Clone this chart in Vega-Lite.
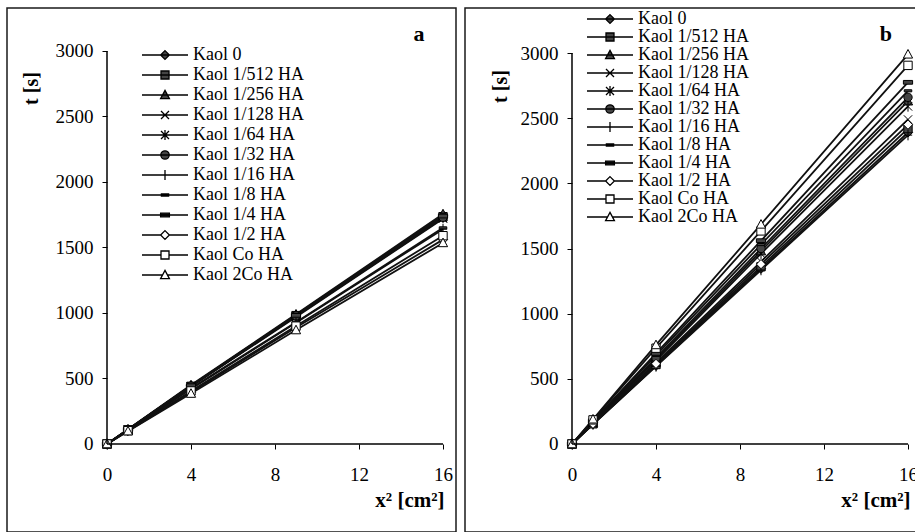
{
  "$schema": "https://vega.github.io/schema/vega-lite/v6.json",
  "padding": {"left": 6, "top": 7, "right": 0, "bottom": 0},
  "spacing": 7,
  "config": {
    "font": "Liberation Serif",
    "view": {"stroke": "#1a1a1a", "strokeWidth": 1.5},
    "axis": {"grid": false, "domain": false, "tickColor": "black", "tickSize": 5, "labelColor": "black", "labelFont": "Liberation Serif", "labelFontSize": 19, "titleFont": "Liberation Serif", "titleFontSize": 20, "titleFontWeight": "bold", "titleColor": "black"}
  },
  "datasets": {
    "A": [
      {"s": "Kaol 0", "xsq": 0, "t": 0}, {"s": "Kaol 0", "xsq": 1, "t": 110}, {"s": "Kaol 0", "xsq": 4, "t": 445}, {"s": "Kaol 0", "xsq": 9, "t": 985}, {"s": "Kaol 0", "xsq": 16, "t": 1745},
      {"s": "Kaol 1/512 HA", "xsq": 0, "t": 0}, {"s": "Kaol 1/512 HA", "xsq": 1, "t": 108}, {"s": "Kaol 1/512 HA", "xsq": 4, "t": 440}, {"s": "Kaol 1/512 HA", "xsq": 9, "t": 980}, {"s": "Kaol 1/512 HA", "xsq": 16, "t": 1735},
      {"s": "Kaol 1/256 HA", "xsq": 0, "t": 0}, {"s": "Kaol 1/256 HA", "xsq": 1, "t": 112}, {"s": "Kaol 1/256 HA", "xsq": 4, "t": 450}, {"s": "Kaol 1/256 HA", "xsq": 9, "t": 990}, {"s": "Kaol 1/256 HA", "xsq": 16, "t": 1755},
      {"s": "Kaol 1/128 HA", "xsq": 0, "t": 0}, {"s": "Kaol 1/128 HA", "xsq": 1, "t": 108}, {"s": "Kaol 1/128 HA", "xsq": 4, "t": 438}, {"s": "Kaol 1/128 HA", "xsq": 9, "t": 970}, {"s": "Kaol 1/128 HA", "xsq": 16, "t": 1720},
      {"s": "Kaol 1/64 HA", "xsq": 0, "t": 0}, {"s": "Kaol 1/64 HA", "xsq": 1, "t": 108}, {"s": "Kaol 1/64 HA", "xsq": 4, "t": 440}, {"s": "Kaol 1/64 HA", "xsq": 9, "t": 975}, {"s": "Kaol 1/64 HA", "xsq": 16, "t": 1725},
      {"s": "Kaol 1/32 HA", "xsq": 0, "t": 0}, {"s": "Kaol 1/32 HA", "xsq": 1, "t": 110}, {"s": "Kaol 1/32 HA", "xsq": 4, "t": 442}, {"s": "Kaol 1/32 HA", "xsq": 9, "t": 978}, {"s": "Kaol 1/32 HA", "xsq": 16, "t": 1730},
      {"s": "Kaol 1/16 HA", "xsq": 0, "t": 0}, {"s": "Kaol 1/16 HA", "xsq": 1, "t": 105}, {"s": "Kaol 1/16 HA", "xsq": 4, "t": 420}, {"s": "Kaol 1/16 HA", "xsq": 9, "t": 925}, {"s": "Kaol 1/16 HA", "xsq": 16, "t": 1640},
      {"s": "Kaol 1/8 HA", "xsq": 0, "t": 0}, {"s": "Kaol 1/8 HA", "xsq": 1, "t": 106}, {"s": "Kaol 1/8 HA", "xsq": 4, "t": 425}, {"s": "Kaol 1/8 HA", "xsq": 9, "t": 930}, {"s": "Kaol 1/8 HA", "xsq": 16, "t": 1650},
      {"s": "Kaol 1/4 HA", "xsq": 0, "t": 0}, {"s": "Kaol 1/4 HA", "xsq": 1, "t": 110}, {"s": "Kaol 1/4 HA", "xsq": 4, "t": 445}, {"s": "Kaol 1/4 HA", "xsq": 9, "t": 982}, {"s": "Kaol 1/4 HA", "xsq": 16, "t": 1740},
      {"s": "Kaol 1/2 HA", "xsq": 0, "t": 0}, {"s": "Kaol 1/2 HA", "xsq": 1, "t": 100}, {"s": "Kaol 1/2 HA", "xsq": 4, "t": 395}, {"s": "Kaol 1/2 HA", "xsq": 9, "t": 890}, {"s": "Kaol 1/2 HA", "xsq": 16, "t": 1560},
      {"s": "Kaol Co HA", "xsq": 0, "t": 0}, {"s": "Kaol Co HA", "xsq": 1, "t": 102}, {"s": "Kaol Co HA", "xsq": 4, "t": 405}, {"s": "Kaol Co HA", "xsq": 9, "t": 900}, {"s": "Kaol Co HA", "xsq": 16, "t": 1590},
      {"s": "Kaol 2Co HA", "xsq": 0, "t": 0}, {"s": "Kaol 2Co HA", "xsq": 1, "t": 98}, {"s": "Kaol 2Co HA", "xsq": 4, "t": 385}, {"s": "Kaol 2Co HA", "xsq": 9, "t": 870}, {"s": "Kaol 2Co HA", "xsq": 16, "t": 1535}
    ],
    "B": [
      {"s": "Kaol 0", "xsq": 0, "t": 0}, {"s": "Kaol 0", "xsq": 1, "t": 150}, {"s": "Kaol 0", "xsq": 4, "t": 600}, {"s": "Kaol 0", "xsq": 9, "t": 1345}, {"s": "Kaol 0", "xsq": 16, "t": 2390},
      {"s": "Kaol 1/512 HA", "xsq": 0, "t": 0}, {"s": "Kaol 1/512 HA", "xsq": 1, "t": 155}, {"s": "Kaol 1/512 HA", "xsq": 4, "t": 610}, {"s": "Kaol 1/512 HA", "xsq": 9, "t": 1360}, {"s": "Kaol 1/512 HA", "xsq": 16, "t": 2420},
      {"s": "Kaol 1/256 HA", "xsq": 0, "t": 0}, {"s": "Kaol 1/256 HA", "xsq": 1, "t": 165}, {"s": "Kaol 1/256 HA", "xsq": 4, "t": 650}, {"s": "Kaol 1/256 HA", "xsq": 9, "t": 1480}, {"s": "Kaol 1/256 HA", "xsq": 16, "t": 2630},
      {"s": "Kaol 1/128 HA", "xsq": 0, "t": 0}, {"s": "Kaol 1/128 HA", "xsq": 1, "t": 160}, {"s": "Kaol 1/128 HA", "xsq": 4, "t": 625}, {"s": "Kaol 1/128 HA", "xsq": 9, "t": 1400}, {"s": "Kaol 1/128 HA", "xsq": 16, "t": 2490},
      {"s": "Kaol 1/64 HA", "xsq": 0, "t": 0}, {"s": "Kaol 1/64 HA", "xsq": 1, "t": 165}, {"s": "Kaol 1/64 HA", "xsq": 4, "t": 640}, {"s": "Kaol 1/64 HA", "xsq": 9, "t": 1460}, {"s": "Kaol 1/64 HA", "xsq": 16, "t": 2590},
      {"s": "Kaol 1/32 HA", "xsq": 0, "t": 0}, {"s": "Kaol 1/32 HA", "xsq": 1, "t": 170}, {"s": "Kaol 1/32 HA", "xsq": 4, "t": 660}, {"s": "Kaol 1/32 HA", "xsq": 9, "t": 1500}, {"s": "Kaol 1/32 HA", "xsq": 16, "t": 2660},
      {"s": "Kaol 1/16 HA", "xsq": 0, "t": 0}, {"s": "Kaol 1/16 HA", "xsq": 1, "t": 150}, {"s": "Kaol 1/16 HA", "xsq": 4, "t": 595}, {"s": "Kaol 1/16 HA", "xsq": 9, "t": 1335}, {"s": "Kaol 1/16 HA", "xsq": 16, "t": 2370},
      {"s": "Kaol 1/8 HA", "xsq": 0, "t": 0}, {"s": "Kaol 1/8 HA", "xsq": 1, "t": 175}, {"s": "Kaol 1/8 HA", "xsq": 4, "t": 680}, {"s": "Kaol 1/8 HA", "xsq": 9, "t": 1530}, {"s": "Kaol 1/8 HA", "xsq": 16, "t": 2710},
      {"s": "Kaol 1/4 HA", "xsq": 0, "t": 0}, {"s": "Kaol 1/4 HA", "xsq": 1, "t": 175}, {"s": "Kaol 1/4 HA", "xsq": 4, "t": 695}, {"s": "Kaol 1/4 HA", "xsq": 9, "t": 1560}, {"s": "Kaol 1/4 HA", "xsq": 16, "t": 2775},
      {"s": "Kaol 1/2 HA", "xsq": 0, "t": 0}, {"s": "Kaol 1/2 HA", "xsq": 1, "t": 155}, {"s": "Kaol 1/2 HA", "xsq": 4, "t": 615}, {"s": "Kaol 1/2 HA", "xsq": 9, "t": 1380}, {"s": "Kaol 1/2 HA", "xsq": 16, "t": 2450},
      {"s": "Kaol Co HA", "xsq": 0, "t": 0}, {"s": "Kaol Co HA", "xsq": 1, "t": 185}, {"s": "Kaol Co HA", "xsq": 4, "t": 735}, {"s": "Kaol Co HA", "xsq": 9, "t": 1635}, {"s": "Kaol Co HA", "xsq": 16, "t": 2905},
      {"s": "Kaol 2Co HA", "xsq": 0, "t": 0}, {"s": "Kaol 2Co HA", "xsq": 1, "t": 190}, {"s": "Kaol 2Co HA", "xsq": 4, "t": 760}, {"s": "Kaol 2Co HA", "xsq": 9, "t": 1685}, {"s": "Kaol 2Co HA", "xsq": 16, "t": 2990}
    ]
  },
  "hconcat": [
    {
      "width": 449,
      "height": 524,
      "resolve": {"scale": {"shape": "independent", "fill": "independent", "stroke": "independent"}},
      "layer": [
        {
          "data": {"name": "A"},
          "mark": {"type": "line", "stroke": "#111", "strokeWidth": 1.8},
          "encoding": {
            "x": {"field": "xsq", "type": "quantitative", "scale": {"domain": [-4.762, 16.619], "nice": false, "zero": false},
              "axis": {"values": [0, 4, 8, 12, 16], "offset": -88, "labelPadding": 16, "title": "x² [cm²]", "titleX": 437, "titleY": 62, "titleAlign": "right", "titleBaseline": "alphabetic", "titleFontSize": 21}},
            "y": {"field": "t", "type": "quantitative", "scale": {"domain": [-671.8, 3328.2], "nice": false, "zero": false},
              "axis": {"values": [0, 500, 1000, 1500, 2000, 2500, 3000], "format": "d", "offset": -100, "labelPadding": 9, "title": "t [s]", "titleX": -76, "titleY": 80, "titleAlign": "center", "titleBaseline": "middle", "titleAngle": -90}},
            "detail": {"field": "s", "type": "nominal"}
          }
        },
        {
          "data": {"name": "A"},
          "mark": {"type": "point", "filled": false, "stroke": "black", "strokeWidth": 1, "size": 70, "opacity": 1},
          "encoding": {
            "x": {"field": "xsq", "type": "quantitative"},
            "y": {"field": "t", "type": "quantitative"},
            "fill": {"condition": {"test": "indexof(['Kaol 1/2 HA','Kaol Co HA','Kaol 2Co HA'], datum.s) >= 0", "value": "white"}, "value": "#444"},
            "shape": {"field": "s", "type": "nominal", "legend": null,
              "scale": {"domain": ["Kaol 0", "Kaol 1/512 HA", "Kaol 1/256 HA", "Kaol 1/128 HA", "Kaol 1/64 HA", "Kaol 1/32 HA", "Kaol 1/16 HA", "Kaol 1/8 HA", "Kaol 1/4 HA", "Kaol 1/2 HA", "Kaol Co HA", "Kaol 2Co HA"],
                "range": ["M0,-1.1L1.1,0L0,1.1L-1.1,0Z", "M-1,-1L1,-1L1,1L-1,1Z", "M0,-1.15L1.1,0.9L-1.1,0.9Z", "M-1,-1L1,1M-1,1L1,-1", "M-1,-1L1,1M-1,1L1,-1M0,-1.25L0,1.25", "circle", "M-1,0L1,0M0,-1.25L0,1.25", "M-0.9,-0.25L0.9,-0.25L0.9,0.25L-0.9,0.25Z", "M-1.1,-0.45L1.1,-0.45L1.1,0.45L-1.1,0.45Z", "M0,-1.1L1.1,0L0,1.1L-1.1,0Z", "M-1,-1L1,-1L1,1L-1,1Z", "M0,-1.15L1.1,0.9L-1.1,0.9Z"]}
            }
          }
        },
        {
          "data": {"values": []},
          "mark": {"type": "point", "filled": false, "strokeWidth": 1.3, "size": 16, "opacity": 1},
          "encoding": {
            "stroke": {"field": "s", "type": "nominal",
              "scale": {"domain": ["Kaol 0", "Kaol 1/512 HA", "Kaol 1/256 HA", "Kaol 1/128 HA", "Kaol 1/64 HA", "Kaol 1/32 HA", "Kaol 1/16 HA", "Kaol 1/8 HA", "Kaol 1/4 HA", "Kaol 1/2 HA", "Kaol Co HA", "Kaol 2Co HA"],
                "range": ["black", "black", "black", "black", "black", "black", "black", "black", "black", "black", "black", "black"]},
              "legend": {"orient": "none", "legendX": 135, "legendY": 38, "title": null, "padding": 0, "rowPadding": 2, "symbolSize": 16, "symbolOffset": 14, "labelOffset": 19, "labelFontSize": 18, "labelFont": "Liberation Serif", "labelColor": "black", "symbolStrokeWidth": 1.3, "symbolOpacity": 1}},
            "fill": {"field": "s", "type": "nominal",
              "scale": {"domain": ["Kaol 0", "Kaol 1/512 HA", "Kaol 1/256 HA", "Kaol 1/128 HA", "Kaol 1/64 HA", "Kaol 1/32 HA", "Kaol 1/16 HA", "Kaol 1/8 HA", "Kaol 1/4 HA", "Kaol 1/2 HA", "Kaol Co HA", "Kaol 2Co HA"],
                "range": ["#444", "#444", "#444", "#444", "#444", "#444", "#444", "#111", "#111", "white", "white", "white"]},
              "legend": {"orient": "none", "legendX": 135, "legendY": 38, "title": null, "padding": 0, "rowPadding": 2, "symbolSize": 16, "symbolOffset": 14, "labelOffset": 19, "labelFontSize": 18, "labelFont": "Liberation Serif", "labelColor": "black", "symbolStrokeWidth": 1.3, "symbolOpacity": 1}},
            "shape": {"field": "s", "type": "nominal",
              "scale": {"domain": ["Kaol 0", "Kaol 1/512 HA", "Kaol 1/256 HA", "Kaol 1/128 HA", "Kaol 1/64 HA", "Kaol 1/32 HA", "Kaol 1/16 HA", "Kaol 1/8 HA", "Kaol 1/4 HA", "Kaol 1/2 HA", "Kaol Co HA", "Kaol 2Co HA"],
                "range": ["M-11.5,0L11.5,0M0,-2.2L2.2,0L0,2.2L-2.2,0Z", "M-11.5,0L11.5,0M-2,-2L2,-2L2,2L-2,2Z", "M-11.5,0L11.5,0M0,-2.3L2.2,1.8L-2.2,1.8Z", "M-11.5,0L11.5,0M-2,-2L2,2M-2,2L2,-2", "M-11.5,0L11.5,0M-2,-2L2,2M-2,2L2,-2M0,-2.5L0,2.5", "M-11.5,0L11.5,0M-2.1,0A2.1,2.1,0,1,1,2.1,0A2.1,2.1,0,1,1,-2.1,0Z", "M-11.5,0L11.5,0M0,-2.5L0,2.5", "M-11.5,0L11.5,0M-1.8,-0.5L1.8,-0.5L1.8,0.5L-1.8,0.5Z", "M-11.5,0L11.5,0M-2.2,-0.9L2.2,-0.9L2.2,0.9L-2.2,0.9Z", "M-11.5,0L-2.2,0M2.2,0L11.5,0M0,-2.2L2.2,0L0,2.2L-2.2,0Z", "M-11.5,0L-2,0M2,0L11.5,0M-2,-2L2,-2L2,2L-2,2Z", "M-11.5,0L-1.23,0M1.23,0L11.5,0M0,-2.3L2.2,1.8L-2.2,1.8Z"]},
              "legend": {"orient": "none", "legendX": 135, "legendY": 38, "title": null, "padding": 0, "rowPadding": 2, "symbolSize": 16, "symbolOffset": 14, "labelOffset": 19, "labelFontSize": 18, "labelFont": "Liberation Serif", "labelColor": "black", "symbolStrokeWidth": 1.3, "symbolOpacity": 1}}
          }
        },
        {
          "data": {"values": [{"k": 1}]},
          "mark": {"type": "rule", "stroke": "black", "strokeWidth": 1.5},
          "encoding": {"x": {"datum": 0}, "x2": {"datum": 16}, "y": {"datum": 0}}
        },
        {
          "data": {"values": [{"k": 1}]},
          "mark": {"type": "rule", "stroke": "black", "strokeWidth": 1.5},
          "encoding": {"x": {"datum": 0}, "y": {"datum": 0}, "y2": {"datum": 3000}}
        },
        {
          "data": {"values": [{"label": "a"}]},
          "mark": {"type": "text", "font": "Liberation Serif", "fontSize": 22, "fontWeight": "bold", "color": "black", "baseline": "middle", "align": "center"},
          "encoding": {"x": {"datum": 14.86}, "y": {"datum": 3130}, "text": {"field": "label"}}
        }
      ]
    },
    {
      "width": 453,
      "height": 524,
      "resolve": {"scale": {"shape": "independent", "fill": "independent", "stroke": "independent"}},
      "layer": [
        {
          "data": {"name": "B"},
          "mark": {"type": "line", "stroke": "#111", "strokeWidth": 1.8},
          "encoding": {
            "x": {"field": "xsq", "type": "quantitative", "scale": {"domain": [-5.095, 16.476], "nice": false, "zero": false},
              "axis": {"values": [0, 4, 8, 12, 16], "offset": -88, "labelPadding": 16, "title": "x² [cm²]", "titleX": 445, "titleY": 62, "titleAlign": "right", "titleBaseline": "alphabetic", "titleFontSize": 21}},
            "y": {"field": "t", "type": "quantitative", "scale": {"domain": [-675.2, 3345.3], "nice": false, "zero": false},
              "axis": {"values": [0, 500, 1000, 1500, 2000, 2500, 3000], "format": "d", "offset": -107, "labelPadding": 9, "title": "t [s]", "titleX": -72, "titleY": 78, "titleAlign": "center", "titleBaseline": "middle", "titleAngle": -90}},
            "detail": {"field": "s", "type": "nominal"}
          }
        },
        {
          "data": {"name": "B"},
          "mark": {"type": "point", "filled": false, "stroke": "black", "strokeWidth": 1, "size": 70, "opacity": 1},
          "encoding": {
            "x": {"field": "xsq", "type": "quantitative"},
            "y": {"field": "t", "type": "quantitative"},
            "fill": {"condition": {"test": "indexof(['Kaol 1/2 HA','Kaol Co HA','Kaol 2Co HA'], datum.s) >= 0", "value": "white"}, "value": "#444"},
            "shape": {"field": "s", "type": "nominal", "legend": null,
              "scale": {"domain": ["Kaol 0", "Kaol 1/512 HA", "Kaol 1/256 HA", "Kaol 1/128 HA", "Kaol 1/64 HA", "Kaol 1/32 HA", "Kaol 1/16 HA", "Kaol 1/8 HA", "Kaol 1/4 HA", "Kaol 1/2 HA", "Kaol Co HA", "Kaol 2Co HA"],
                "range": ["M0,-1.1L1.1,0L0,1.1L-1.1,0Z", "M-1,-1L1,-1L1,1L-1,1Z", "M0,-1.15L1.1,0.9L-1.1,0.9Z", "M-1,-1L1,1M-1,1L1,-1", "M-1,-1L1,1M-1,1L1,-1M0,-1.25L0,1.25", "circle", "M-1,0L1,0M0,-1.25L0,1.25", "M-0.9,-0.25L0.9,-0.25L0.9,0.25L-0.9,0.25Z", "M-1.1,-0.45L1.1,-0.45L1.1,0.45L-1.1,0.45Z", "M0,-1.1L1.1,0L0,1.1L-1.1,0Z", "M-1,-1L1,-1L1,1L-1,1Z", "M0,-1.15L1.1,0.9L-1.1,0.9Z"]}
            }
          }
        },
        {
          "data": {"values": []},
          "mark": {"type": "point", "filled": false, "strokeWidth": 1.3, "size": 16, "opacity": 1},
          "encoding": {
            "stroke": {"field": "s", "type": "nominal",
              "scale": {"domain": ["Kaol 0", "Kaol 1/512 HA", "Kaol 1/256 HA", "Kaol 1/128 HA", "Kaol 1/64 HA", "Kaol 1/32 HA", "Kaol 1/16 HA", "Kaol 1/8 HA", "Kaol 1/4 HA", "Kaol 1/2 HA", "Kaol Co HA", "Kaol 2Co HA"],
                "range": ["black", "black", "black", "black", "black", "black", "black", "black", "black", "black", "black", "black"]},
              "legend": {"orient": "none", "legendX": 122, "legendY": 2, "title": null, "padding": 0, "rowPadding": 0, "symbolSize": 16, "symbolOffset": 14, "labelOffset": 19, "labelFontSize": 18, "labelFont": "Liberation Serif", "labelColor": "black", "symbolStrokeWidth": 1.3, "symbolOpacity": 1}},
            "fill": {"field": "s", "type": "nominal",
              "scale": {"domain": ["Kaol 0", "Kaol 1/512 HA", "Kaol 1/256 HA", "Kaol 1/128 HA", "Kaol 1/64 HA", "Kaol 1/32 HA", "Kaol 1/16 HA", "Kaol 1/8 HA", "Kaol 1/4 HA", "Kaol 1/2 HA", "Kaol Co HA", "Kaol 2Co HA"],
                "range": ["#444", "#444", "#444", "#444", "#444", "#444", "#444", "#111", "#111", "white", "white", "white"]},
              "legend": {"orient": "none", "legendX": 122, "legendY": 2, "title": null, "padding": 0, "rowPadding": 0, "symbolSize": 16, "symbolOffset": 14, "labelOffset": 19, "labelFontSize": 18, "labelFont": "Liberation Serif", "labelColor": "black", "symbolStrokeWidth": 1.3, "symbolOpacity": 1}},
            "shape": {"field": "s", "type": "nominal",
              "scale": {"domain": ["Kaol 0", "Kaol 1/512 HA", "Kaol 1/256 HA", "Kaol 1/128 HA", "Kaol 1/64 HA", "Kaol 1/32 HA", "Kaol 1/16 HA", "Kaol 1/8 HA", "Kaol 1/4 HA", "Kaol 1/2 HA", "Kaol Co HA", "Kaol 2Co HA"],
                "range": ["M-11.5,0L11.5,0M0,-2.2L2.2,0L0,2.2L-2.2,0Z", "M-11.5,0L11.5,0M-2,-2L2,-2L2,2L-2,2Z", "M-11.5,0L11.5,0M0,-2.3L2.2,1.8L-2.2,1.8Z", "M-11.5,0L11.5,0M-2,-2L2,2M-2,2L2,-2", "M-11.5,0L11.5,0M-2,-2L2,2M-2,2L2,-2M0,-2.5L0,2.5", "M-11.5,0L11.5,0M-2.1,0A2.1,2.1,0,1,1,2.1,0A2.1,2.1,0,1,1,-2.1,0Z", "M-11.5,0L11.5,0M0,-2.5L0,2.5", "M-11.5,0L11.5,0M-1.8,-0.5L1.8,-0.5L1.8,0.5L-1.8,0.5Z", "M-11.5,0L11.5,0M-2.2,-0.9L2.2,-0.9L2.2,0.9L-2.2,0.9Z", "M-11.5,0L-2.2,0M2.2,0L11.5,0M0,-2.2L2.2,0L0,2.2L-2.2,0Z", "M-11.5,0L-2,0M2,0L11.5,0M-2,-2L2,-2L2,2L-2,2Z", "M-11.5,0L-1.23,0M1.23,0L11.5,0M0,-2.3L2.2,1.8L-2.2,1.8Z"]},
              "legend": {"orient": "none", "legendX": 122, "legendY": 2, "title": null, "padding": 0, "rowPadding": 0, "symbolSize": 16, "symbolOffset": 14, "labelOffset": 19, "labelFontSize": 18, "labelFont": "Liberation Serif", "labelColor": "black", "symbolStrokeWidth": 1.3, "symbolOpacity": 1}}
          }
        },
        {
          "data": {"values": [{"k": 1}]},
          "mark": {"type": "rule", "stroke": "black", "strokeWidth": 1.5},
          "encoding": {"x": {"datum": 0}, "x2": {"datum": 16}, "y": {"datum": 0}}
        },
        {
          "data": {"values": [{"k": 1}]},
          "mark": {"type": "rule", "stroke": "black", "strokeWidth": 1.5},
          "encoding": {"x": {"datum": 0}, "y": {"datum": 0}, "y2": {"datum": 3000}}
        },
        {
          "data": {"values": [{"label": "b"}]},
          "mark": {"type": "text", "font": "Liberation Serif", "fontSize": 22, "fontWeight": "bold", "color": "black", "baseline": "middle", "align": "center"},
          "encoding": {"x": {"datum": 14.95}, "y": {"datum": 3146}, "text": {"field": "label"}}
        }
      ]
    }
  ]
}
